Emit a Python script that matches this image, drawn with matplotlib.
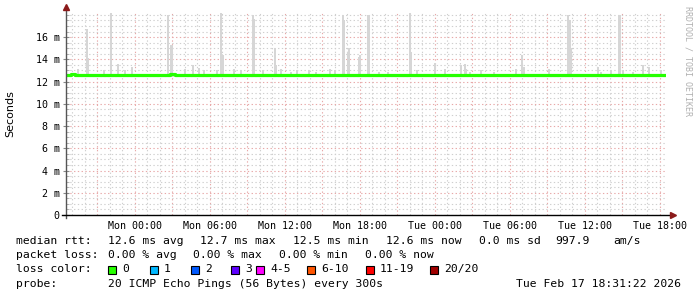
import matplotlib
matplotlib.use("Agg")
import matplotlib.pyplot as plt
import matplotlib.dates as mdates
from matplotlib.ticker import MultipleLocator, FixedLocator, FuncFormatter
from matplotlib.patches import Rectangle
from datetime import datetime, timedelta

# ---------------- data ----------------
start = datetime(2026, 2, 15, 18, 30)
span_hours = 48

# median rtt (ms) as step breakpoints: hours since start -> value
median_hours = [0, 0.4, 0.7, 8.3, 8.7, 48]
median_vals = [12.6, 12.65, 12.6, 12.65, 12.6, 12.6]

# smoke spikes: hours since start, top of smoke (ms)
spike_hours = [0.88, 1.60, 1.68, 2.96, 3.52, 4.08, 4.64, 5.20, 8.08, 8.32, 8.40, 9.44,
               10.08, 10.56, 10.96, 12.00, 12.32, 12.40, 12.48, 13.36, 13.92, 14.88,
               14.96, 15.68, 16.64, 16.72, 17.12, 17.92, 18.40, 19.36, 19.92, 21.04,
               21.44, 22.08, 22.16, 22.48, 22.56, 23.36, 23.44, 24.08, 24.16, 24.96,
               25.68, 27.44, 27.52, 28.00, 29.44, 30.24, 31.52, 31.84, 31.92, 32.24,
               33.12, 34.16, 35.92, 36.40, 36.56, 38.56, 40.08, 40.16, 40.24, 40.32,
               42.48, 42.72, 43.52, 44.16, 44.24, 44.48, 45.28, 46.08, 46.56, 47.52]
spike_tops = [13.1, 16.7, 14.1, 13.0, 18.2, 13.6, 13.0, 13.3, 18.0, 15.3, 15.3, 13.1,
              13.5, 13.2, 13.0, 13.0, 18.2, 14.4, 14.4, 13.1, 13.0, 18.0,
              17.6, 13.0, 15.0, 13.5, 13.1, 12.9, 13.0, 13.0, 12.9, 13.1,
              13.0, 18.0, 17.5, 14.7, 15.0, 14.2, 14.4, 18.0, 18.0, 12.9,
              12.9, 18.2, 14.7, 13.0, 13.7, 13.1, 13.5, 13.6, 13.1, 12.9,
              13.0, 12.9, 13.1, 14.4, 13.3, 13.1, 18.0, 17.5, 17.5, 15.0,
              13.3, 12.9, 13.0, 18.0, 18.0, 13.0, 12.9, 13.5, 13.3, 13.0]
smoke_bottom = 12.4

y_max = 18.17
y_ticks = [0, 2, 4, 6, 8, 10, 12, 14, 16]

legend_rtt = ["12.6 ms avg", "12.7 ms max", "12.5 ms min", "12.6 ms now", "0.0 ms sd", "997.9", "am/s"]
legend_loss = ["0.00 % avg", "0.00 % max", "0.00 % min", "0.00 % now"]
loss_labels = ["0", "1", "2", "3", "4-5", "6-10", "11-19", "20/20"]
loss_colors = ["#26ff00", "#00b8ff", "#0059ff", "#5e00ff", "#ff00ff", "#ff5500", "#ff0000", "#a00000"]
probe_text = "20 ICMP Echo Pings (56 Bytes) every 300s"
stamp_text = "Tue Feb 17 18:31:22 2026"

# ---------------- figure ----------------
W, H = 697, 297
fig = plt.figure(figsize=(W / 100, H / 100), dpi=100)
fig.patch.set_facecolor("white")

def fx(px):
    return px / W

def fy(py):
    return 1 - py / H

ax_l, ax_r, ax_t, ax_b = 66, 666, 13, 215
ax = fig.add_axes([fx(ax_l), fy(ax_b), (ax_r - ax_l) / W, (ax_b - ax_t) / H])
ax.set_facecolor("white")

t0 = mdates.date2num(start)
t1 = mdates.date2num(start + timedelta(hours=span_hours))
ax.set_xlim(t0, t1)
ax.set_ylim(0, y_max)

# smoke
bar_w = 5 / 1440
sx = [mdates.date2num(start + timedelta(hours=h)) for h in spike_hours]
ax.bar(sx, [t - smoke_bottom for t in spike_tops], bottom=smoke_bottom, width=bar_w * 1.5,
       color="#d6d6d6", edgecolor="none", align="edge", zorder=2)

# median line
mx = [mdates.date2num(start + timedelta(hours=h)) for h in median_hours]
ax.step(mx, median_vals, where="post", color="#26ff00", lw=2.3, zorder=3, solid_capstyle="butt")

# grids
major_grid = dict(color="#e8a8a8", lw=0.8, linestyle=(0, (1.2, 2.2)))
minor_grid = dict(color="#cfcfcf", lw=0.8, linestyle=(0, (1.2, 2.2)))
ax.xaxis.set_major_locator(mdates.HourLocator(byhour=range(0, 24, 3)))
ax.xaxis.set_minor_locator(mdates.HourLocator())

def xfmt(v, pos):
    d = mdates.num2date(v)
    return d.strftime("%a %H:%M") if d.hour % 6 == 0 else ""

ax.xaxis.set_major_formatter(FuncFormatter(xfmt))
ax.yaxis.set_major_locator(FixedLocator(y_ticks))
ax.yaxis.set_minor_locator(MultipleLocator(0.5))
ax.yaxis.set_major_formatter(FuncFormatter(lambda v, p: "0" if abs(v) < 1e-9 else f"{v:.0f} m"))
ax.grid(True, which="major", **major_grid)
ax.grid(True, which="minor", **minor_grid)
ax.set_axisbelow(True)

for s in ax.spines.values():
    s.set_visible(False)

mono = "DejaVu Sans Mono"
ax.tick_params(axis="x", which="both", length=0, pad=4.5, labelsize=7.2, labelcolor="#000000")
ax.tick_params(axis="y", which="major", direction="inout", length=4, width=0.8, color="#888888",
               pad=2.6, labelsize=7.2)
ax.tick_params(axis="y", which="minor", direction="in", length=2, width=0.6, color="#aaaaaa")
for lab in ax.get_xticklabels() + ax.get_yticklabels():
    lab.set_fontfamily(mono)

# axis lines with arrows
ax.plot([0, 0], [-0.015, 1.025], transform=ax.transAxes, color="#555555", lw=1.0, clip_on=False, zorder=5)
ax.plot([-0.006, 1.008], [0, 0], transform=ax.transAxes, color="#000000", lw=1.0, clip_on=False, zorder=5)
ax.plot([0], [1.03], marker="^", markersize=5, color="#8b1a1a", transform=ax.transAxes, clip_on=False, zorder=6)
ax.plot([1.0115], [0], marker=">", markersize=5, color="#8b1a1a", transform=ax.transAxes, clip_on=False, zorder=6)

# y label
fig.text(fx(10), fy(114), "Seconds", rotation=90, ha="center", va="center",
         fontsize=8, family="DejaVu Sans")

# watermark
fig.text(fx(688), fy(6), "RRDTOOL / TOBI OETIKER", rotation=270, ha="center", va="top",
         fontsize=6, family=mono, color="#b0b0b0")

# legend text
fs = 8.2
def t(px, py, s, **kw):
    fig.text(fx(px), fy(py), s, fontsize=fs, family=mono, va="center", **kw)

y1, y2, y3, y4 = 241, 255, 269, 284
t(16, y1, "median rtt:")
for xp, s in zip([108, 200, 293, 386, 479, 555, 613], legend_rtt):
    t(xp, y1, s)
t(16, y2, "packet loss:")
for xp, s in zip([108, 193, 279, 365], legend_loss):
    t(xp, y2, s)
t(16, y3, "loss color:")
box_x = [108, 150, 191, 231, 256, 307, 366, 430]
for bx, lab, col in zip(box_x, loss_labels, loss_colors):
    fig.patches.append(Rectangle((fx(bx), fy(y3 + 4.5)), 8 / W, 8 / H, transform=fig.transFigure,
                                 facecolor=col, edgecolor="black", lw=0.8))
    t(bx + 14, y3, lab)
t(16, y4, "probe:")
t(108, y4, probe_text)
t(681, y4, stamp_text, ha="right")

fig.savefig("out.png", dpi=100, facecolor="white")
